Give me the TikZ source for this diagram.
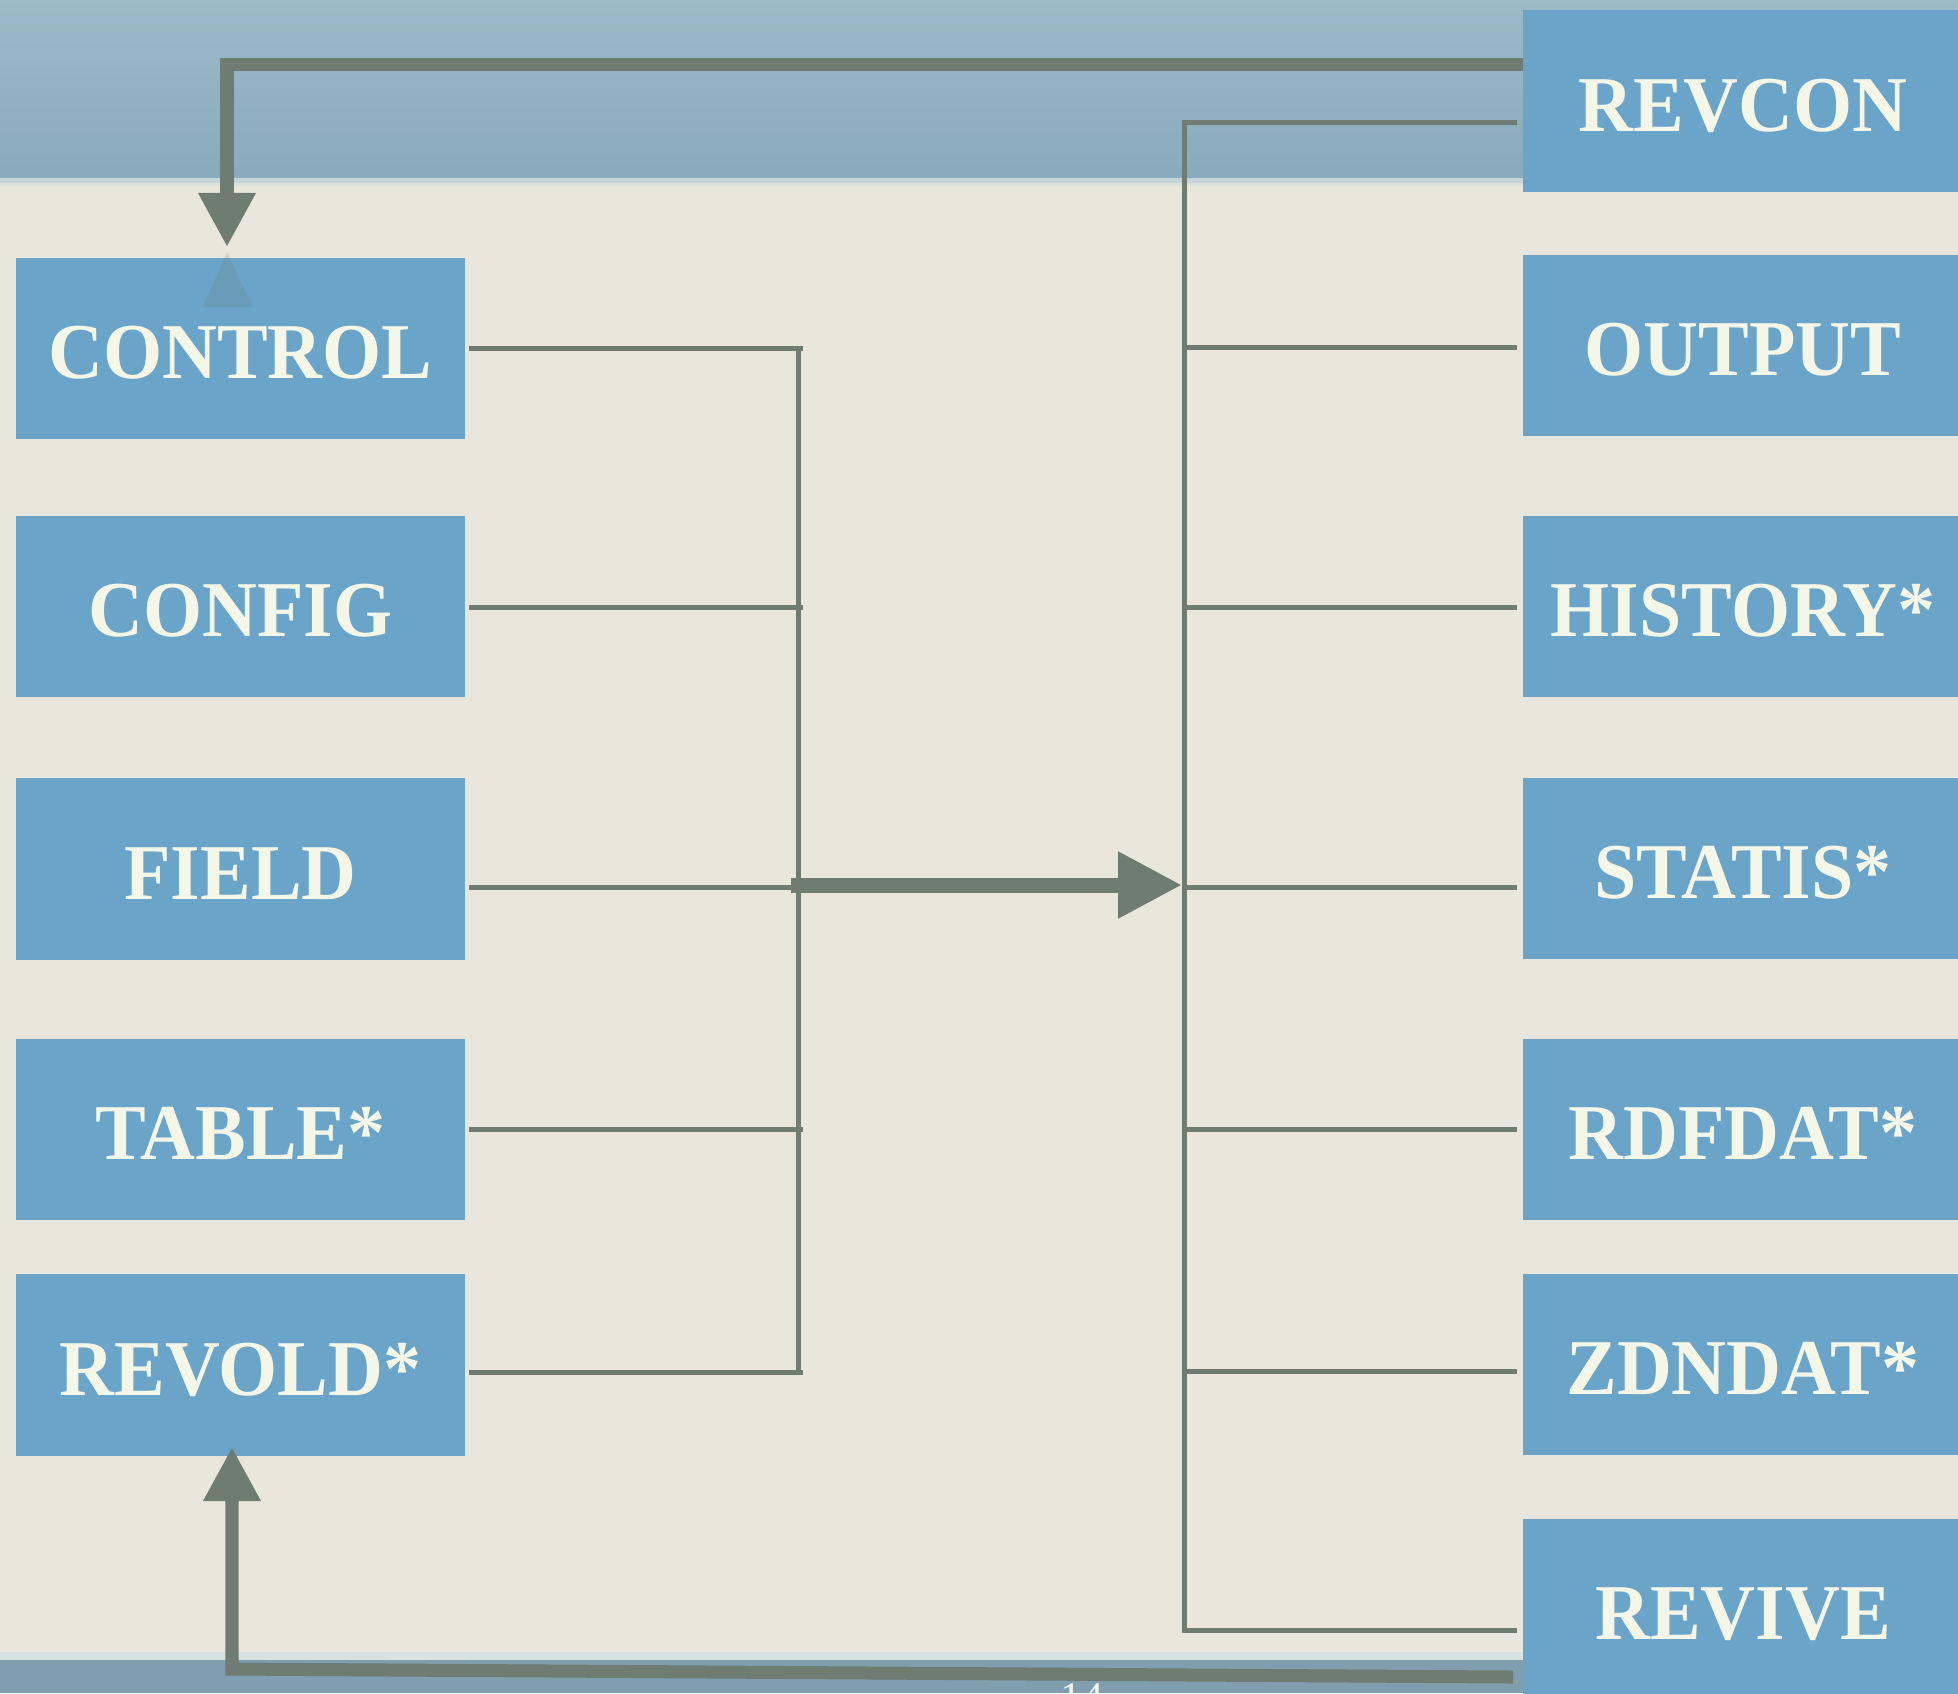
\documentclass[tikz,border=0pt]{standalone}
\usepackage{fontspec}
\setmainfont{Liberation Serif}
\newfontfamily\boxfont{Liberation Serif}[FakeStretch=0.96]
\usetikzlibrary{arrows.meta,calc}
\definecolor{bgcream}{HTML}{E9E7DC}
\definecolor{bandlight}{HTML}{9CBAC8}
\definecolor{banddark}{HTML}{88AABD}
\definecolor{bandbot}{HTML}{7F9FB1}
\definecolor{fringe}{HTML}{D4E2E2}
\definecolor{boxblue}{HTML}{6AA4C8}
\definecolor{boxtext}{HTML}{F4F6E8}
\definecolor{linegray}{HTML}{6E7C71}
\begin{document}
\begin{tikzpicture}[x=0.01cm,y=-0.01cm,
  lbox/.style={fill=boxblue, text=boxtext, minimum width=4.49cm, minimum height=1.81cm,
    inner sep=0pt, text height=0.6cm, text depth=0pt,
    font=\boxfont\bfseries\fontsize{22.5pt}{27pt}\selectfont},
  rbox/.style={lbox, minimum width=4.40cm},
  thinline/.style={draw=linegray, line width=1.42pt},
  thickarrow/.style={draw=linegray, line width=3.7pt,
    -{Triangle[length=15.4pt,width=15.4pt]}},
  mainarrow/.style={draw=linegray, line width=4.27pt,
    -{Triangle[length=18.2pt,width=17.9pt]}}]
\useasboundingbox (0,0) rectangle (1958,1693);
\clip (0,0) rectangle (1958,1693);
% background
\fill[bgcream] (0,0) rectangle (1958,1693);
\shade[top color=bandlight, bottom color=banddark] (0,0) rectangle (1958,182);
\fill[fringe, opacity=0.8] (0,178) rectangle (1958,186);
\fill[fringe, opacity=0.8] (0,1652) rectangle (1958,1660);
\fill[bandbot] (0,1660) rectangle (1958,1693);
% page number
\node[text=boxtext, anchor=base, font=\fontsize{12pt}{14pt}\selectfont] (pagenum) at (1082,1711) {14};
% left boxes
\node[lbox] (control) at (240.5,348.5) {CONTROL};
\node[lbox] (config) at (240.5,606.5) {CONFIG};
\node[lbox] (field) at (240.5,869) {FIELD};
\node[lbox] (table) at (240.5,1129.5) {TABLE*};
\node[lbox] (revold) at (240.5,1365) {REVOLD*};
% right boxes
\node[rbox] (revcon) at (1743,101) {REVCON};
\node[rbox] (output) at (1743,345.5) {OUTPUT};
\node[rbox] (history) at (1743,606.5) {HISTORY*};
\node[rbox] (statis) at (1743,868.5) {STATIS*};
\node[rbox] (rdfdat) at (1743,1129.5) {RDFDAT*};
\node[rbox] (zdndat) at (1743,1364.5) {ZDNDAT*};
\node[rbox] (revive) at (1743,1609.5) {REVIVE};
% ghost reflection of the top arrow
\fill[linegray, opacity=0.18] (227,252) -- (203,307) -- (253,307) -- cycle;
% left bus coordinates
\coordinate (lb1) at (803,348);
\coordinate (lb2) at (803,607);
\coordinate (lb3) at (803,887);
\coordinate (lb4) at (803,1129);
\coordinate (lb5) at (803,1372);
\coordinate (lbtop) at (798,348);
\coordinate (lbbot) at (798,1372);
\draw[thinline] ([xshift=0.03cm]control.east |- lb1) -- (lb1);
\draw[thinline] ([xshift=0.03cm]config.east |- lb2) -- (lb2);
\draw[thinline] ([xshift=0.03cm]field.east |- lb3) -- (lb3);
\draw[thinline] ([xshift=0.03cm]table.east |- lb4) -- (lb4);
\draw[thinline] ([xshift=0.03cm]revold.east |- lb5) -- (lb5);
\draw[thinline] (lbtop) -- (lbbot);
% right bus coordinates
\coordinate (rbtop) at (1184,122);
\coordinate (rb1) at (1184,347);
\coordinate (rb2) at (1184,607);
\coordinate (rb3) at (1184,887);
\coordinate (rb4) at (1184,1129);
\coordinate (rb5) at (1184,1371);
\coordinate (rbbot) at (1184,1630);
\draw[thinline] ([xshift=-0.05cm]revcon.west |- rbtop) -- (rbtop) -- (rbbot)
  -- ([xshift=-0.05cm]revive.west |- rbbot);
\draw[thinline] (rb1) -- ([xshift=-0.05cm]output.west |- rb1);
\draw[thinline] (rb2) -- ([xshift=-0.05cm]history.west |- rb2);
\draw[thinline] (rb3) -- ([xshift=-0.05cm]statis.west |- rb3);
\draw[thinline] (rb4) -- ([xshift=-0.05cm]rdfdat.west |- rb4);
\draw[thinline] (rb5) -- ([xshift=-0.05cm]zdndat.west |- rb5);
% main arrow from left bus to right bus
\coordinate (mainstart) at (791,885);
\coordinate (mainend) at (1182,885);
\draw[mainarrow] (mainstart) -- (mainend);
% top feedback arrow REVCON -> CONTROL
\coordinate (topstart) at (1523,64);
\coordinate (topbend) at (227,64);
\coordinate (toptip) at (227,247);
\draw[thickarrow] (topstart) -- (topbend) -- (toptip);
% bottom feedback arrow REVIVE -> REVOLD
\coordinate (botstart) at (1513,1677);
\coordinate (botbend) at (232,1669);
\coordinate (bottip) at (232,1447);
\draw[thickarrow] (botstart) -- (botbend) -- (bottip);
\end{tikzpicture}
\end{document}
